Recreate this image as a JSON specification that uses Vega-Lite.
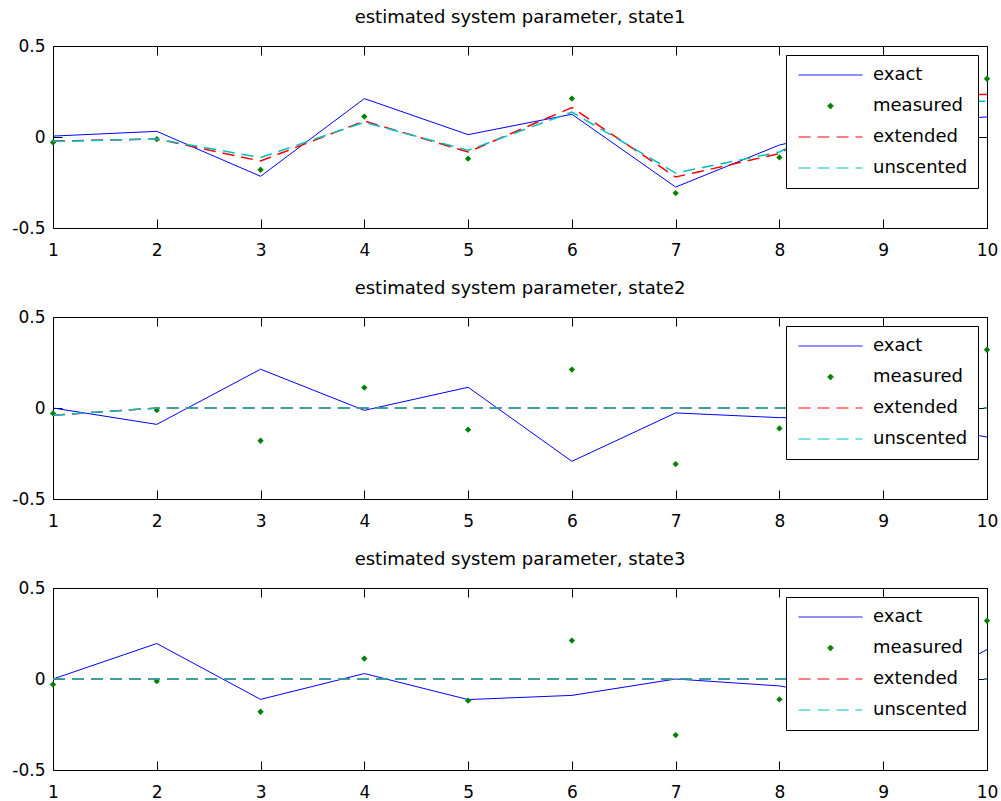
{
  "$schema": "https://vega.github.io/schema/vega-lite/v6.json",
  "padding": {"left": 11, "top": 8, "right": 2, "bottom": 0},
  "background": "white",
  "datasets": {
    "d": [
      {"panel": 1, "series": "exact", "x": 1, "y": 0.005}, {"panel": 1, "series": "exact", "x": 2, "y": 0.031}, {"panel": 1, "series": "exact", "x": 3, "y": -0.216}, {"panel": 1, "series": "exact", "x": 4, "y": 0.211}, {"panel": 1, "series": "exact", "x": 5, "y": 0.013}, {"panel": 1, "series": "exact", "x": 6, "y": 0.125}, {"panel": 1, "series": "exact", "x": 7, "y": -0.275}, {"panel": 1, "series": "exact", "x": 8, "y": -0.044}, {"panel": 1, "series": "exact", "x": 9, "y": 0.08}, {"panel": 1, "series": "exact", "x": 10, "y": 0.11},
      {"panel": 1, "series": "measured", "x": 1, "y": -0.03}, {"panel": 1, "series": "measured", "x": 2, "y": -0.012}, {"panel": 1, "series": "measured", "x": 3, "y": -0.18}, {"panel": 1, "series": "measured", "x": 4, "y": 0.112}, {"panel": 1, "series": "measured", "x": 5, "y": -0.119}, {"panel": 1, "series": "measured", "x": 6, "y": 0.211}, {"panel": 1, "series": "measured", "x": 7, "y": -0.308}, {"panel": 1, "series": "measured", "x": 8, "y": -0.112}, {"panel": 1, "series": "measured", "x": 9, "y": 0.1}, {"panel": 1, "series": "measured", "x": 10, "y": 0.32},
      {"panel": 1, "series": "extended", "x": 1, "y": -0.022}, {"panel": 1, "series": "extended", "x": 2, "y": -0.011}, {"panel": 1, "series": "extended", "x": 3, "y": -0.132}, {"panel": 1, "series": "extended", "x": 4, "y": 0.088}, {"panel": 1, "series": "extended", "x": 5, "y": -0.082}, {"panel": 1, "series": "extended", "x": 6, "y": 0.162}, {"panel": 1, "series": "extended", "x": 7, "y": -0.22}, {"panel": 1, "series": "extended", "x": 8, "y": -0.091}, {"panel": 1, "series": "extended", "x": 9, "y": 0.24}, {"panel": 1, "series": "extended", "x": 10, "y": 0.233},
      {"panel": 1, "series": "unscented", "x": 1, "y": -0.024}, {"panel": 1, "series": "unscented", "x": 2, "y": -0.011}, {"panel": 1, "series": "unscented", "x": 3, "y": -0.113}, {"panel": 1, "series": "unscented", "x": 4, "y": 0.081}, {"panel": 1, "series": "unscented", "x": 5, "y": -0.073}, {"panel": 1, "series": "unscented", "x": 6, "y": 0.137}, {"panel": 1, "series": "unscented", "x": 7, "y": -0.198}, {"panel": 1, "series": "unscented", "x": 8, "y": -0.082}, {"panel": 1, "series": "unscented", "x": 9, "y": 0.2}, {"panel": 1, "series": "unscented", "x": 10, "y": 0.196},

      {"panel": 2, "series": "exact", "x": 1, "y": 0.0}, {"panel": 2, "series": "exact", "x": 2, "y": -0.09}, {"panel": 2, "series": "exact", "x": 3, "y": 0.213}, {"panel": 2, "series": "exact", "x": 4, "y": -0.013}, {"panel": 2, "series": "exact", "x": 5, "y": 0.114}, {"panel": 2, "series": "exact", "x": 6, "y": -0.293}, {"panel": 2, "series": "exact", "x": 7, "y": -0.027}, {"panel": 2, "series": "exact", "x": 8, "y": -0.053}, {"panel": 2, "series": "exact", "x": 9, "y": -0.05}, {"panel": 2, "series": "exact", "x": 10, "y": -0.16},
      {"panel": 2, "series": "measured", "x": 1, "y": -0.03}, {"panel": 2, "series": "measured", "x": 2, "y": -0.012}, {"panel": 2, "series": "measured", "x": 3, "y": -0.18}, {"panel": 2, "series": "measured", "x": 4, "y": 0.112}, {"panel": 2, "series": "measured", "x": 5, "y": -0.119}, {"panel": 2, "series": "measured", "x": 6, "y": 0.211}, {"panel": 2, "series": "measured", "x": 7, "y": -0.308}, {"panel": 2, "series": "measured", "x": 8, "y": -0.112}, {"panel": 2, "series": "measured", "x": 9, "y": 0.1}, {"panel": 2, "series": "measured", "x": 10, "y": 0.32},
      {"panel": 2, "series": "extended", "x": 1, "y": -0.04}, {"panel": 2, "series": "extended", "x": 2, "y": 0}, {"panel": 2, "series": "extended", "x": 3, "y": 0}, {"panel": 2, "series": "extended", "x": 4, "y": 0}, {"panel": 2, "series": "extended", "x": 5, "y": 0}, {"panel": 2, "series": "extended", "x": 6, "y": 0}, {"panel": 2, "series": "extended", "x": 7, "y": 0}, {"panel": 2, "series": "extended", "x": 8, "y": 0}, {"panel": 2, "series": "extended", "x": 9, "y": 0}, {"panel": 2, "series": "extended", "x": 10, "y": 0},
      {"panel": 2, "series": "unscented", "x": 1, "y": -0.04}, {"panel": 2, "series": "unscented", "x": 2, "y": 0}, {"panel": 2, "series": "unscented", "x": 3, "y": 0}, {"panel": 2, "series": "unscented", "x": 4, "y": 0}, {"panel": 2, "series": "unscented", "x": 5, "y": 0}, {"panel": 2, "series": "unscented", "x": 6, "y": 0}, {"panel": 2, "series": "unscented", "x": 7, "y": 0}, {"panel": 2, "series": "unscented", "x": 8, "y": 0}, {"panel": 2, "series": "unscented", "x": 9, "y": 0}, {"panel": 2, "series": "unscented", "x": 10, "y": 0},

      {"panel": 3, "series": "exact", "x": 1, "y": 0.0}, {"panel": 3, "series": "exact", "x": 2, "y": 0.195}, {"panel": 3, "series": "exact", "x": 3, "y": -0.112}, {"panel": 3, "series": "exact", "x": 4, "y": 0.03}, {"panel": 3, "series": "exact", "x": 5, "y": -0.113}, {"panel": 3, "series": "exact", "x": 6, "y": -0.09}, {"panel": 3, "series": "exact", "x": 7, "y": 0.0}, {"panel": 3, "series": "exact", "x": 8, "y": -0.038}, {"panel": 3, "series": "exact", "x": 9, "y": -0.138}, {"panel": 3, "series": "exact", "x": 10, "y": 0.162},
      {"panel": 3, "series": "measured", "x": 1, "y": -0.03}, {"panel": 3, "series": "measured", "x": 2, "y": -0.012}, {"panel": 3, "series": "measured", "x": 3, "y": -0.18}, {"panel": 3, "series": "measured", "x": 4, "y": 0.112}, {"panel": 3, "series": "measured", "x": 5, "y": -0.119}, {"panel": 3, "series": "measured", "x": 6, "y": 0.211}, {"panel": 3, "series": "measured", "x": 7, "y": -0.308}, {"panel": 3, "series": "measured", "x": 8, "y": -0.112}, {"panel": 3, "series": "measured", "x": 9, "y": 0.1}, {"panel": 3, "series": "measured", "x": 10, "y": 0.32},
      {"panel": 3, "series": "extended", "x": 1, "y": 0}, {"panel": 3, "series": "extended", "x": 2, "y": 0}, {"panel": 3, "series": "extended", "x": 3, "y": 0}, {"panel": 3, "series": "extended", "x": 4, "y": 0}, {"panel": 3, "series": "extended", "x": 5, "y": 0}, {"panel": 3, "series": "extended", "x": 6, "y": 0}, {"panel": 3, "series": "extended", "x": 7, "y": 0}, {"panel": 3, "series": "extended", "x": 8, "y": 0}, {"panel": 3, "series": "extended", "x": 9, "y": 0}, {"panel": 3, "series": "extended", "x": 10, "y": 0},
      {"panel": 3, "series": "unscented", "x": 1, "y": 0}, {"panel": 3, "series": "unscented", "x": 2, "y": 0}, {"panel": 3, "series": "unscented", "x": 3, "y": 0}, {"panel": 3, "series": "unscented", "x": 4, "y": 0}, {"panel": 3, "series": "unscented", "x": 5, "y": 0}, {"panel": 3, "series": "unscented", "x": 6, "y": 0}, {"panel": 3, "series": "unscented", "x": 7, "y": 0}, {"panel": 3, "series": "unscented", "x": 8, "y": 0}, {"panel": 3, "series": "unscented", "x": 9, "y": 0}, {"panel": 3, "series": "unscented", "x": 10, "y": 0}
    ]
  },
  "config": {
    "view": {"stroke": "black", "strokeWidth": 1},
    "font": "DejaVu Sans",
    "axis": {
      "labelFont": "DejaVu Sans", "labelFontSize": 17, "labelColor": "black",
      "tickColor": "black", "tickSize": -9, "tickWidth": 1,
      "domain": false, "grid": false, "title": null,
      "labelFlush": false, "labelOverlap": false
    },
    "axisX": {"labelPadding": 23},
    "axisY": {"labelPadding": 17},
    "title": {"font": "DejaVu Sans", "fontSize": 18, "fontWeight": "normal", "color": "black", "offset": 10, "anchor": "middle"},
    "legend": {
      "title": null, "orient": "top-right", "offset": 9,
      "padding": 10, "fillColor": "white", "strokeColor": "black",
      "labelFont": "DejaVu Sans", "labelFontSize": 18, "labelColor": "black",
      "symbolSize": 4096, "symbolStrokeWidth": 1, "clipHeight": 20,
      "rowPadding": 11, "labelOffset": 10, "symbolOffset": 2, "symbolType": "stroke"
    }
  },
  "resolve": {"scale": {"color": "independent"}, "legend": {"color": "independent"}},
  "spacing": 20,
  "vconcat": [
    {
      "title": "estimated system parameter, state1",
      "width": 934, "height": 182,
      "data": {"name": "d"},
      "transform": [{"filter": "datum.panel === 1"}],
      "layer": [
        {
          "transform": [{"filter": "datum.series === 'exact'"}],
          "mark": {"type": "line", "strokeWidth": 1},
          "encoding": {
            "x": {"field": "x", "type": "quantitative", "scale": {"domain": [1, 10], "nice": false, "zero": false}, "axis": {"values": [1,2,3,4,5,6,7,8,9,10]}},
            "y": {"field": "y", "type": "quantitative", "scale": {"domain": [-0.5, 0.5], "nice": false, "zero": false}, "axis": {"values": [-0.5, 0, 0.5], "labelExpr": "datum.value < 0 ? '-' + format(-datum.value, '.1f') : (datum.value === 0 ? '0' : format(datum.value, '.1f'))"}},
            "color": {"field": "series", "type": "nominal", "scale": {"domain": ["exact", "measured", "extended", "unscented"], "range": ["#0000ff", "#008000", "#ff0000", "#00bfbf"]},
              "legend": {"encode": {"symbols": {"update": {
                "shape": {"signal": "datum.value === 'measured' ? 'M0,-0.09L0.09,0L0,0.09L-0.09,0Z' : 'stroke'"},
                "fill": {"signal": "datum.value === 'measured' ? '#008000' : 'transparent'"},
                "stroke": {"signal": "datum.value === 'exact' ? '#0000ff' : (datum.value === 'measured' ? '#008000' : (datum.value === 'extended' ? '#ff0000' : '#00bfbf'))"},
                "strokeDash": {"signal": "(datum.value === 'extended' || datum.value === 'unscented') ? [12, 7] : [1, 0]"},
                "strokeWidth": {"value": 1},
                "opacity": {"value": 1}
              }}}}}
          }
        },
        {
          "transform": [{"filter": "datum.series === 'measured'"}],
          "mark": {"type": "point", "shape": "diamond", "filled": true, "size": 40, "opacity": 1},
          "encoding": {
            "x": {"field": "x", "type": "quantitative", "axis": null},
            "y": {"field": "y", "type": "quantitative", "axis": null},
            "color": {"field": "series", "type": "nominal"}
          }
        },
        {
          "transform": [{"filter": "datum.series === 'extended' || datum.series === 'unscented'"}],
          "mark": {"type": "line", "strokeWidth": 1.5, "strokeDash": [12, 7]},
          "encoding": {
            "x": {"field": "x", "type": "quantitative", "axis": {"orient": "top", "labels": false, "values": [1,2,3,4,5,6,7,8,9,10]}},
            "y": {"field": "y", "type": "quantitative", "axis": {"orient": "right", "labels": false, "values": [-0.5, 0, 0.5]}},
            "color": {"field": "series", "type": "nominal"}
          }
        }
      ],
      "resolve": {"axis": {"x": "independent", "y": "independent"}}
    },
    {
      "title": "estimated system parameter, state2",
      "width": 934, "height": 182,
      "data": {"name": "d"},
      "transform": [{"filter": "datum.panel === 2"}],
      "layer": [
        {
          "transform": [{"filter": "datum.series === 'exact'"}],
          "mark": {"type": "line", "strokeWidth": 1},
          "encoding": {
            "x": {"field": "x", "type": "quantitative", "scale": {"domain": [1, 10], "nice": false, "zero": false}, "axis": {"values": [1,2,3,4,5,6,7,8,9,10]}},
            "y": {"field": "y", "type": "quantitative", "scale": {"domain": [-0.5, 0.5], "nice": false, "zero": false}, "axis": {"values": [-0.5, 0, 0.5], "labelExpr": "datum.value < 0 ? '-' + format(-datum.value, '.1f') : (datum.value === 0 ? '0' : format(datum.value, '.1f'))"}},
            "color": {"field": "series", "type": "nominal", "scale": {"domain": ["exact", "measured", "extended", "unscented"], "range": ["#0000ff", "#008000", "#ff0000", "#00bfbf"]},
              "legend": {"encode": {"symbols": {"update": {
                "shape": {"signal": "datum.value === 'measured' ? 'M0,-0.09L0.09,0L0,0.09L-0.09,0Z' : 'stroke'"},
                "fill": {"signal": "datum.value === 'measured' ? '#008000' : 'transparent'"},
                "stroke": {"signal": "datum.value === 'exact' ? '#0000ff' : (datum.value === 'measured' ? '#008000' : (datum.value === 'extended' ? '#ff0000' : '#00bfbf'))"},
                "strokeDash": {"signal": "(datum.value === 'extended' || datum.value === 'unscented') ? [12, 7] : [1, 0]"},
                "strokeWidth": {"value": 1},
                "opacity": {"value": 1}
              }}}}}
          }
        },
        {
          "transform": [{"filter": "datum.series === 'measured'"}],
          "mark": {"type": "point", "shape": "diamond", "filled": true, "size": 40, "opacity": 1},
          "encoding": {
            "x": {"field": "x", "type": "quantitative", "axis": null},
            "y": {"field": "y", "type": "quantitative", "axis": null},
            "color": {"field": "series", "type": "nominal"}
          }
        },
        {
          "transform": [{"filter": "datum.series === 'extended' || datum.series === 'unscented'"}],
          "mark": {"type": "line", "strokeWidth": 1.5, "strokeDash": [12, 7]},
          "encoding": {
            "x": {"field": "x", "type": "quantitative", "axis": {"orient": "top", "labels": false, "values": [1,2,3,4,5,6,7,8,9,10]}},
            "y": {"field": "y", "type": "quantitative", "axis": {"orient": "right", "labels": false, "values": [-0.5, 0, 0.5]}},
            "color": {"field": "series", "type": "nominal"}
          }
        }
      ],
      "resolve": {"axis": {"x": "independent", "y": "independent"}}
    },
    {
      "title": "estimated system parameter, state3",
      "width": 934, "height": 182,
      "data": {"name": "d"},
      "transform": [{"filter": "datum.panel === 3"}],
      "layer": [
        {
          "transform": [{"filter": "datum.series === 'exact'"}],
          "mark": {"type": "line", "strokeWidth": 1},
          "encoding": {
            "x": {"field": "x", "type": "quantitative", "scale": {"domain": [1, 10], "nice": false, "zero": false}, "axis": {"values": [1,2,3,4,5,6,7,8,9,10]}},
            "y": {"field": "y", "type": "quantitative", "scale": {"domain": [-0.5, 0.5], "nice": false, "zero": false}, "axis": {"values": [-0.5, 0, 0.5], "labelExpr": "datum.value < 0 ? '-' + format(-datum.value, '.1f') : (datum.value === 0 ? '0' : format(datum.value, '.1f'))"}},
            "color": {"field": "series", "type": "nominal", "scale": {"domain": ["exact", "measured", "extended", "unscented"], "range": ["#0000ff", "#008000", "#ff0000", "#00bfbf"]},
              "legend": {"encode": {"symbols": {"update": {
                "shape": {"signal": "datum.value === 'measured' ? 'M0,-0.09L0.09,0L0,0.09L-0.09,0Z' : 'stroke'"},
                "fill": {"signal": "datum.value === 'measured' ? '#008000' : 'transparent'"},
                "stroke": {"signal": "datum.value === 'exact' ? '#0000ff' : (datum.value === 'measured' ? '#008000' : (datum.value === 'extended' ? '#ff0000' : '#00bfbf'))"},
                "strokeDash": {"signal": "(datum.value === 'extended' || datum.value === 'unscented') ? [12, 7] : [1, 0]"},
                "strokeWidth": {"value": 1},
                "opacity": {"value": 1}
              }}}}}
          }
        },
        {
          "transform": [{"filter": "datum.series === 'measured'"}],
          "mark": {"type": "point", "shape": "diamond", "filled": true, "size": 40, "opacity": 1},
          "encoding": {
            "x": {"field": "x", "type": "quantitative", "axis": null},
            "y": {"field": "y", "type": "quantitative", "axis": null},
            "color": {"field": "series", "type": "nominal"}
          }
        },
        {
          "transform": [{"filter": "datum.series === 'extended' || datum.series === 'unscented'"}],
          "mark": {"type": "line", "strokeWidth": 1.5, "strokeDash": [12, 7]},
          "encoding": {
            "x": {"field": "x", "type": "quantitative", "axis": {"orient": "top", "labels": false, "values": [1,2,3,4,5,6,7,8,9,10]}},
            "y": {"field": "y", "type": "quantitative", "axis": {"orient": "right", "labels": false, "values": [-0.5, 0, 0.5]}},
            "color": {"field": "series", "type": "nominal"}
          }
        }
      ],
      "resolve": {"axis": {"x": "independent", "y": "independent"}}
    }
  ]
}
